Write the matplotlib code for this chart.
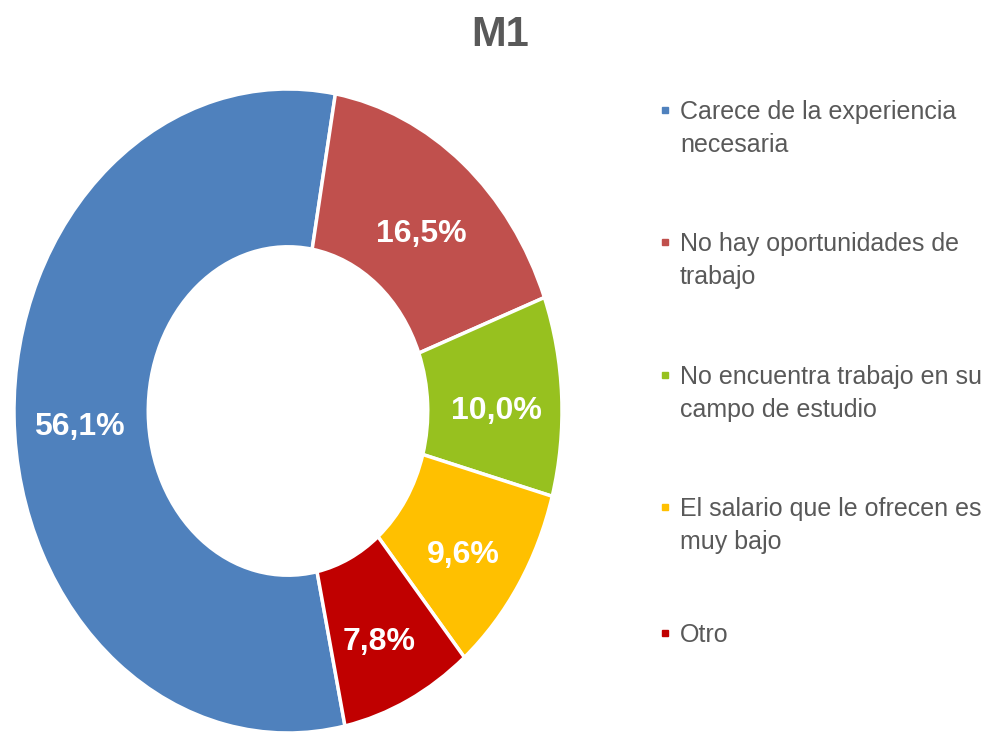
import matplotlib.pyplot as plt
from matplotlib.patches import Rectangle

plt.rcParams['font.family'] = ['Liberation Sans', 'DejaVu Sans']

categories = [
    "Carece de la experiencia\nnecesaria",
    "No hay oportunidades de\ntrabajo",
    "No encuentra trabajo en su\ncampo de estudio",
    "El salario que le ofrecen es\nmuy bajo",
    "Otro",
]
values = [56.1, 16.5, 10.0, 9.6, 7.8]
colors = ["#4F81BD", "#C0504D", "#97C11F", "#FFC000", "#C00000"]

fig = plt.figure(figsize=(9.85, 7.36), dpi=100)
# donut area (stretched vertically, like the original)
ax = fig.add_axes([14 / 985, 3 / 736, 548 / 985, 644 / 736])

wedges, texts, autotexts = ax.pie(
    values, colors=colors, startangle=-78, counterclock=False,
    autopct=lambda p: f"{p:.1f}%".replace(".", ","), pctdistance=0.76,
    wedgeprops=dict(width=0.49, edgecolor="white", linewidth=2.5),
    textprops=dict(color="white", fontsize=23, fontweight="bold"),
)
ax.set_aspect("auto")
ax.set_xlim(-1, 1)
ax.set_ylim(-1, 1)
# labels sit a bit lower in the original
for t in autotexts:
    x, y = t.get_position()
    t.set_position((x, y - 0.036))

fig.text(500 / 985, 1 - 35 / 736, "M1", ha="center", va="center",
         fontsize=30, fontweight="bold", color="#595959")

# legend drawn by hand so the marker sits on the first line
baselines = [119, 251, 384, 516, 642]
for lab, col, yb in zip(categories, colors, baselines):
    fig.text(680 / 985, 1 - (yb - 19) / 736, lab, ha="left", va="top",
             fontsize=18, color="#595959", linespacing=1.45)
    fig.add_artist(Rectangle((662 / 985, 1 - (yb - 6) / 736), 6 / 985, 6 / 736,
                             transform=fig.transFigure, color=col))

plt.savefig("out.png", dpi=100)
